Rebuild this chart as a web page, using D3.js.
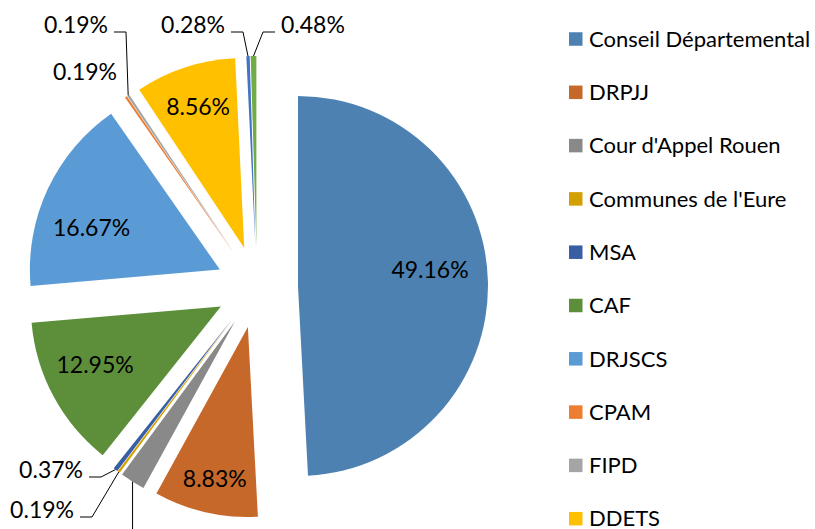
<!DOCTYPE html>
<html lang="fr">
<head>
    <meta charset="UTF-8">
    <title>Répartition des financements</title>
    <script src="https://d3js.org/d3.v7.min.js"></script>
    <style>
        body { margin: 0; background: #fff; }
        svg { display: block; font-family: Lato, "Noto Sans", sans-serif; }
        .label { font-size: 23px; fill: #000; }
        .legend text { font-size: 22px; fill: #000; }
        .leader { fill: none; stroke: #000; stroke-width: 1; }
    </style>
</head>
<body>
    <svg id="chart"></svg>

    <script>
        // financeurs (les deux derniers sont hors cadre dans la légende)
        const categories = [
            "Conseil Départemental", "DRPJJ", "Cour d'Appel Rouen", "Communes de l'Eure",
            "MSA", "CAF", "DRJSCS", "CPAM", "FIPD", "DDETS", "Autre 1", "Autre 2"
        ];
        // part de chaque financeur (%)
        const shares = [49.16, 8.83, 2.13, 0.19, 0.37, 12.95, 16.67, 0.19, 0.19, 8.56, 0.28, 0.48];
        const colors = [
            "#4c81b1", "#c56829", "#898989", "#d49f00", "#385fa3", "#5d8f3b",
            "#5b9bd5", "#ed7d31", "#a5a5a5", "#ffc000", "#4472c4", "#70ad47"
        ];

        const width = 815, height = 529;
        const cx = 257, cy = 287, radius = 190, explode = 41;

        const svg = d3.select("#chart").attr("width", width).attr("height", height);

        const data = categories.map((name, i) => ({ name, value: shares[i], color: colors[i] }));
        const pie = d3.pie().sort(null).value(d => d.value);
        const arc = d3.arc().innerRadius(0).outerRadius(radius);
        const arcs = pie(data);

        const mid = a => (a.startAngle + a.endAngle) / 2;
        const unit = t => [Math.sin(t), -Math.cos(t)];
        // sommet de la part une fois écartée du centre
        function apex(a) {
            const [ux, uy] = unit(mid(a));
            return [cx + explode * ux, cy + explode * uy];
        }
        const fmt = v => d3.format(".2f")(v) + "%";

        // parts
        svg.append("g")
            .selectAll("path")
            .data(arcs)
            .join("path")
            .attr("transform", d => `translate(${apex(d)})`)
            .attr("d", arc)
            .attr("fill", d => d.data.color);

        // étiquettes dans les grandes parts (placement "ajustement optimal")
        const inside = {
            "Conseil Départemental": { k: 0.70, da: -5.4 },
            "DRPJJ": { k: 0.82, da: -0.6 },
            "CAF": { k: 0.73, da: 3.3 },
            "DRJSCS": { k: 0.71, da: -7 },
            "DDETS": { k: 0.78, da: 0 }
        };
        // étiquettes des petites parts, à l'extérieur
        // (celle de la Cour d'Appel tombe sous le cadre : seul son trait est visible)
        const outside = {
            "Cour d'Appel Rouen": { anchor: "below" },
            "Communes de l'Eure": { x: 74, y: 510, anchor: "end" },
            "MSA": { x: 83, y: 470, anchor: "end" },
            "CPAM": { x: 117, y: 72, anchor: "end", noLeader: true },
            "FIPD": { x: 108, y: 25, anchor: "end" },
            "Autre 1": { x: 225, y: 25, anchor: "end" },
            "Autre 2": { x: 281, y: 25, anchor: "start" }
        };

        const labels = svg.append("g");

        arcs.filter(a => inside[a.data.name]).forEach(a => {
            const n = inside[a.data.name];
            const [ax, ay] = apex(a);
            const [ux, uy] = unit(mid(a) + n.da * Math.PI / 180);
            labels.append("text")
                .attr("class", "label")
                .attr("x", ax + n.k * radius * ux)
                .attr("y", ay + n.k * radius * uy)
                .attr("dy", "0.35em")
                .attr("text-anchor", "middle")
                .text(fmt(a.data.value));
        });

        arcs.filter(a => outside[a.data.name]).forEach(a => {
            const o = outside[a.data.name];
            const [ax, ay] = apex(a);
            const [ux, uy] = unit(mid(a));
            const tip = [ax + radius * ux, ay + radius * uy];

            if (o.anchor === "below") {
                labels.append("path")
                    .attr("class", "leader")
                    .attr("d", d3.line()([tip, [tip[0], height + 5]]));
                return;
            }
            if (!o.noLeader) {
                const side = o.anchor === "end" ? 1 : -1;
                const end = o.x + side * 6;
                const elbow = end + side * 12;
                const ly = o.y + 7;
                labels.append("path")
                    .attr("class", "leader")
                    .attr("d", d3.line()([tip, [elbow, ly], [end, ly]]));
            }

            labels.append("text")
                .attr("class", "label")
                .attr("x", o.x)
                .attr("y", o.y)
                .attr("dy", "0.35em")
                .attr("text-anchor", o.anchor)
                .text(fmt(a.data.value));
        });

        // légende
        const rowStep = 53.3, sw = 13.5;
        const legend = svg.append("g")
            .attr("class", "legend")
            .selectAll("g")
            .data(data.filter((d, i) => 39 + i * rowStep < height))
            .join("g")
            .attr("transform", (d, i) => `translate(569,${39 + i * rowStep})`);

        legend.append("rect")
            .attr("y", -sw / 2)
            .attr("width", sw)
            .attr("height", sw)
            .attr("fill", d => d.color);

        legend.append("text")
            .attr("x", 20)
            .attr("dy", "0.35em")
            .text(d => d.name);
    </script>
</body>
</html>
